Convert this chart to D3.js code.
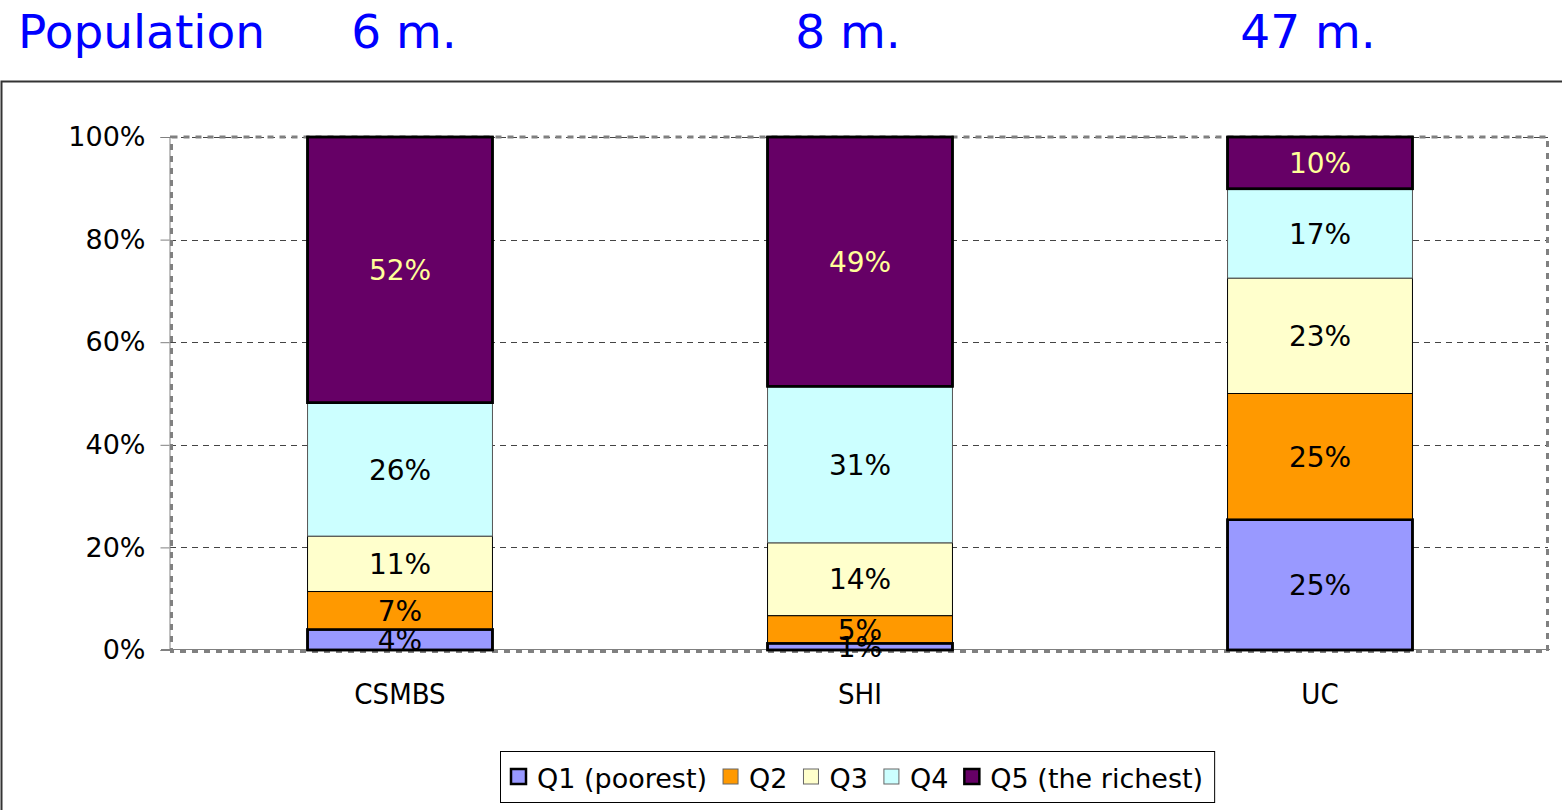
<!DOCTYPE html>
<html>
<head>
<meta charset="utf-8">
<script src="https://cdn.jsdelivr.net/npm/d3@7"></script>
<style>
  body { margin: 0; background: #fff; }
  svg { display: block; font-family: "DejaVu Sans", Verdana, sans-serif; }
</style>
</head>
<body>
<div id="chart"></div>
<script>
// Data
const schemes = ["CSMBS", "SHI", "UC"]
const population = ["6 m.", "8 m.", "47 m."]
const quintiles = ["Q1 (poorest)", "Q2", "Q3", "Q4", "Q5 (the richest)"]
const q1 = [4.0, 1.3, 25.4]
const q2 = [7.4, 5.4, 24.6]
const q3 = [10.8, 14.2, 22.5]
const q4 = [26.0, 30.5, 17.4]
const q5 = [51.8, 48.6, 10.1]
const yTicks = [0, 20, 40, 60, 80, 100]

const colors = ["#9999ff", "#ff9900", "#ffffcc", "#ccffff", "#660066"]
const labelColors = ["#000", "#000", "#000", "#000", "#ffff99"]
const strokeWidths = [2.5, 1, 1, 1, 2.5]

const series = [q1, q2, q3, q4, q5]

// Dimensions
const width = 1562
const height = 810
const plot = { left: 170, right: 1550, top: 137, bottom: 650 }

const svg = d3.select("#chart").append("svg")
    .attr("width", width)
    .attr("height", height)

// Outer chart frame
svg.append("rect")
    .attr("x", 1.5)
    .attr("y", 81.5)
    .attr("width", width + 10)
    .attr("height", height)
    .attr("fill", "none")
    .attr("stroke", "#333")
    .attr("stroke-width", 2)

// Scales
const x = d3.scaleBand()
    .domain(schemes)
    .range([plot.left, plot.right])
    .paddingInner(0.598)
    .paddingOuter(0.299)

const y = d3.scaleLinear()
    .domain([0, 100])
    .range([plot.bottom, plot.top])

// Title row
svg.append("text")
    .attr("x", 18)
    .attr("y", 48)
    .attr("fill", "#0000ff")
    .style("font-size", "47px")
    .text("Population")

svg.selectAll(".pop")
    .data(population)
    .enter()
    .append("text")
        .attr("class", "pop")
        .attr("x", (d, i) => x(schemes[i]) + x.bandwidth() / 2 - (i === 0 ? -4 : 12))
        .attr("y", 48)
        .attr("text-anchor", "middle")
        .attr("fill", "#0000ff")
        .style("font-size", "47px")
        .text(d => d)

// Gridlines
svg.append("g")
    .selectAll("line")
    .data(yTicks.filter(d => d > 0))
    .enter()
    .append("line")
        .attr("x1", plot.left)
        .attr("x2", plot.right - 2)
        .attr("y1", d => Math.round(y(d)) + 0.5)
        .attr("y2", d => Math.round(y(d)) + 0.5)
        .attr("stroke", "#444")
        .attr("stroke-width", 1)
        .attr("stroke-dasharray", "6,5")

// Plot area border (dotted)
svg.append("rect")
    .attr("x", plot.left + 1.5)
    .attr("y", plot.top)
    .attr("width", plot.right - plot.left - 4)
    .attr("height", plot.bottom - plot.top + 1.5)
    .attr("fill", "none")
    .attr("stroke", "#808080")
    .attr("stroke-width", 3)
    .attr("stroke-dasharray", "6,6")

// Y axis
const yAxis = d3.axisLeft(y)
    .tickValues(yTicks)
    .tickFormat(d => d + "%")
    .tickSize(9)
    .tickPadding(15)

const yAxisG = svg.append("g")
    .attr("transform", `translate(${plot.left - 0.5}, 0)`)
    .call(yAxis)
yAxisG.select(".domain").attr("stroke", "#808080")
yAxisG.selectAll(".tick line").attr("stroke", "#808080")
yAxisG.selectAll(".tick text")
    .attr("fill", "#000")
    .style("font-family", "DejaVu Sans, Verdana, sans-serif")
    .style("font-size", "27px")

// Baseline
svg.append("line")
    .attr("x1", plot.left - 9)
    .attr("x2", plot.right)
    .attr("y1", y(0) - 0.5)
    .attr("y2", y(0) - 0.5)
    .attr("stroke", "#808080")
    .attr("stroke-width", 1)

// Stacked bars
const stacked = series.map((s, k) => s.map((v, i) => {
    const start = d3.sum(series.slice(0, k), t => t[i])
    return { k, i, v, y0: start, y1: start + v }
}))

const layers = svg.selectAll(".layer")
    .data(stacked)
    .enter()
    .append("g")
        .attr("class", "layer")

layers.selectAll("rect")
    .data(d => d)
    .enter()
    .append("rect")
        .attr("x", d => x(schemes[d.i]))
        .attr("y", d => y(d.y1))
        .attr("width", x.bandwidth())
        .attr("height", d => y(d.y0) - y(d.y1))
        .attr("fill", d => colors[d.k])
        .attr("stroke", d => d.k === 3 ? "#555" : "#000")
        .attr("stroke-width", d => strokeWidths[d.k])

// Re-draw thick outlined segments on top so their borders stay visible
svg.selectAll(".outline")
    .data(stacked.filter((s, k) => strokeWidths[k] > 1).flat())
    .enter()
    .append("rect")
        .attr("class", "outline")
        .attr("x", d => x(schemes[d.i]))
        .attr("y", d => y(d.y1))
        .attr("width", x.bandwidth())
        .attr("height", d => y(d.y0) - y(d.y1))
        .attr("fill", "none")
        .attr("stroke", "#000")
        .attr("stroke-width", d => strokeWidths[d.k])

// Value labels
svg.selectAll(".val")
    .data(stacked.flat())
    .enter()
    .append("text")
        .attr("class", "val")
        .attr("x", d => x(schemes[d.i]) + x.bandwidth() / 2)
        .attr("y", d => y((d.y0 + d.y1) / 2))
        .attr("dy", "0.36em")
        .attr("text-anchor", "middle")
        .attr("fill", d => labelColors[d.k])
        .style("font-size", "28px")
        .text(d => Math.round(d.v) + "%")

// Category labels
svg.selectAll(".cat")
    .data(schemes)
    .enter()
    .append("text")
        .attr("class", "cat")
        .attr("x", d => x(d) + x.bandwidth() / 2)
        .attr("y", 704)
        .attr("text-anchor", "middle")
        .style("font-family", "'DejaVu Sans Condensed', 'DejaVu Sans', sans-serif")
        .style("font-size", "29px")
        .text(d => d)

// Legend
const legendBox = svg.append("rect")
const legend = svg.append("g")
const legendItems = legend.selectAll("g")
    .data(quintiles)
    .enter()
    .append("g")

legendItems.append("rect")
    .attr("width", 15)
    .attr("height", 15)
    .attr("y", -19)
    .attr("fill", (d, i) => colors[i])
    .attr("stroke", (d, i) => strokeWidths[i] > 1 ? "#000" : "#666")
    .attr("stroke-width", (d, i) => strokeWidths[i] > 1 ? 2.5 : 1)

legendItems.append("text")
    .attr("x", 26)
    .style("font-size", "27px")
    .text(d => d)

let cursor = 0
legendItems.each(function() {
    const g = d3.select(this)
    g.attr("transform", `translate(${cursor}, 0)`)
    cursor += 26 + g.select("text").node().getComputedTextLength() + 16
})
const legendWidth = cursor - 16
const legendLeft = 511
legend.attr("transform", `translate(${legendLeft}, 788)`)

legendBox
    .attr("x", legendLeft - 11 + 0.5)
    .attr("y", 751.5)
    .attr("width", legendWidth + 22)
    .attr("height", 51)
    .attr("fill", "#fff")
    .attr("stroke", "#000")
    .attr("stroke-width", 1)
</script>
</body>
</html>
